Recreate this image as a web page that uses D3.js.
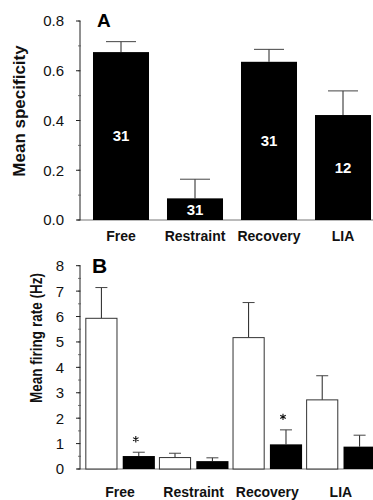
<!DOCTYPE html>
<html>
<head>
<meta charset="utf-8">
<script src="https://cdn.jsdelivr.net/npm/d3@7"></script>
<style>
  html, body { margin: 0; padding: 0; background: #fff; }
  svg { display: block; font-family: "Liberation Sans", Arial, sans-serif; }
</style>
</head>
<body>
<svg id="chart" width="373" height="500"></svg>
<script>
// categories shared by both panels
const categories = ["Free", "Restraint", "Recovery", "LIA"];

// panel A: mean specificity, SEM, number of cells
const specMean = [0.675, 0.087, 0.636, 0.422];
const specSem = [0.042, 0.077, 0.050, 0.097];
const cellCounts = [31, 31, 31, 12];
const ticksA = [0, 0.2, 0.4, 0.6, 0.8];

// panel B: mean firing rate (Hz), open and filled bars, SEM
const rateOpen = [5.93, 0.45, 5.17, 2.72];
const rateOpenSem = [1.21, 0.17, 1.38, 0.95];
const rateFilled = [0.51, 0.31, 0.97, 0.88];
const rateFilledSem = [0.15, 0.13, 0.57, 0.45];
const significant = [true, false, true, false];
const ticksB = [0, 1, 2, 3, 4, 5, 6, 7, 8];

const svg = d3.select("#chart");
const axisX = 80;

function drawYAxis(y, ticks, minorStep, fmt, top, bottom) {
    const g = svg.append("g");
    g.append("line")
        .attr("x1", axisX).attr("x2", axisX)
        .attr("y1", top).attr("y2", bottom)
        .attr("stroke", "#222").attr("stroke-width", 1);
    // minor ticks
    const [d0, d1] = y.domain();
    const minors = d3.range(d0, d1 + minorStep / 2, minorStep);
    g.selectAll("line.minor").data(minors).join("line")
        .attr("class", "minor")
        .attr("x1", axisX - 2).attr("x2", axisX + 1)
        .attr("y1", d => y(d)).attr("y2", d => y(d))
        .attr("stroke", "#555").attr("stroke-width", 0.8);
    g.selectAll("line.major").data(ticks).join("line")
        .attr("class", "major")
        .attr("x1", axisX - 4).attr("x2", axisX)
        .attr("y1", d => y(d)).attr("y2", d => y(d))
        .attr("stroke", "#222").attr("stroke-width", 1);
    g.selectAll("text").data(ticks).join("text")
        .attr("x", axisX - 16)
        .attr("y", d => y(d))
        .attr("dy", "0.36em")
        .attr("text-anchor", "end")
        .attr("font-size", 15)
        .attr("fill", "#111")
        .text(fmt);
}

function errorBar(g, cx, yTop, yErr, capW) {
    g.append("line")
        .attr("x1", cx).attr("x2", cx)
        .attr("y1", yTop).attr("y2", yErr)
        .attr("stroke", "#222").attr("stroke-width", 1);
    g.append("line")
        .attr("x1", cx - capW / 2).attr("x2", cx + capW / 2)
        .attr("y1", yErr).attr("y2", yErr)
        .attr("stroke", "#444").attr("stroke-width", 1);
}

// ---------- Panel A ----------
const yA = d3.scaleLinear().domain([0, 0.8]).range([220, 21]);
const xA = d3.scaleBand().domain(categories)
    .range([84, 380]).paddingInner(0.243).paddingOuter(0.1215);

svg.append("line")
    .attr("x1", axisX - 3).attr("x2", 373)
    .attr("y1", yA(0)).attr("y2", yA(0))
    .attr("stroke", "#777").attr("stroke-width", 1);

drawYAxis(yA, ticksA, 0.1, d => d3.format(".1f")(d), yA(0.8), yA(0));

const gA = svg.append("g");
categories.forEach((c, i) => {
    const x0 = xA(c);
    const cx = x0 + xA.bandwidth() / 2;
    errorBar(gA, cx, yA(specMean[i]), yA(specMean[i] + specSem[i]), 30);
    gA.append("rect")
        .attr("x", x0).attr("y", yA(specMean[i]))
        .attr("width", xA.bandwidth())
        .attr("height", yA(0) - yA(specMean[i]))
        .attr("fill", "#000");
    gA.append("text")
        .attr("x", cx)
        .attr("y", (yA(specMean[i]) + yA(0)) / 2)
        .attr("dy", "0.36em")
        .attr("text-anchor", "middle")
        .attr("font-size", 15).attr("font-weight", "bold")
        .attr("fill", "#fff")
        .text(cellCounts[i]);
    gA.append("text")
        .attr("x", cx).attr("y", 241)
        .attr("text-anchor", "middle")
        .attr("font-size", 14).attr("font-weight", "bold")
        .attr("fill", "#111")
        .text(c);
});

svg.append("text")
    .attr("x", 97).attr("y", 27)
    .attr("font-size", 19).attr("font-weight", "bold")
    .text("A");

svg.append("text")
    .attr("transform", "translate(25,111) rotate(-90)")
    .attr("text-anchor", "middle")
    .attr("font-size", 17).attr("font-weight", "bold")
    .attr("fill", "#111")
    .text("Mean specificity");

// ---------- Panel B ----------
const yB = d3.scaleLinear().domain([0, 8]).range([469, 265.7]);
const xB = d3.scaleBand().domain(categories)
    .range([83.3, 377.7]).paddingInner(0.055).paddingOuter(0.0275);
const xSub = d3.scaleBand().domain(["open", "filled"])
    .range([0, xB.bandwidth()]).paddingInner(0.14);

svg.append("line")
    .attr("x1", axisX - 3).attr("x2", 373)
    .attr("y1", yB(0)).attr("y2", yB(0))
    .attr("stroke", "#777").attr("stroke-width", 1);

drawYAxis(yB, ticksB, 0.5, d => d, yB(8), yB(0));

const gB = svg.append("g");
categories.forEach((c, i) => {
    const g0 = xB(c);
    const series = [
        { key: "open", v: rateOpen[i], e: rateOpenSem[i] },
        { key: "filled", v: rateFilled[i], e: rateFilledSem[i] }
    ];
    series.forEach(s => {
        const x0 = g0 + xSub(s.key);
        const cx = x0 + xSub.bandwidth() / 2;
        errorBar(gB, cx, yB(s.v), yB(s.v + s.e), 12);
        gB.append("rect")
            .attr("x", s.key === "open" ? x0 + 0.5 : x0)
            .attr("y", yB(s.v))
            .attr("width", s.key === "open" ? xSub.bandwidth() - 1 : xSub.bandwidth())
            .attr("height", yB(0) - yB(s.v))
            .attr("fill", s.key === "open" ? "#fff" : "#000")
            .attr("stroke", s.key === "open" ? "#333" : "none")
            .attr("stroke-width", 1);
        if (s.key === "filled" && significant[i]) {
            gB.append("path")
                .attr("d", d3.symbol(d3.symbolAsterisk, 28)())
                .attr("transform", `translate(${cx - 3},${yB(s.v + s.e) - 13})`)
                .attr("stroke", "#111").attr("stroke-width", 1.1)
                .attr("fill", "none");
        }
    });
    gB.append("text")
        .attr("x", g0 + xB.bandwidth() / 2).attr("y", 497)
        .attr("text-anchor", "middle")
        .attr("font-size", 14).attr("font-weight", "bold")
        .attr("fill", "#111")
        .text(c);
});

svg.append("text")
    .attr("x", 92).attr("y", 273)
    .attr("font-size", 21).attr("font-weight", "bold")
    .text("B");

svg.append("text")
    .attr("transform", "translate(42,338) rotate(-90)")
    .attr("text-anchor", "middle")
    .attr("font-size", 17).attr("font-weight", "bold")
    .attr("textLength", 130).attr("lengthAdjust", "spacingAndGlyphs")
    .attr("fill", "#111")
    .text("Mean firing rate (Hz)");
</script>
</body>
</html>
